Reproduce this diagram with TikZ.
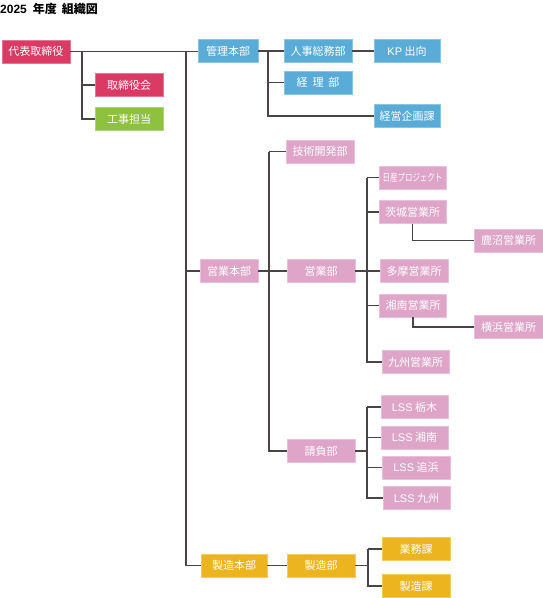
\documentclass[tikz,border=0pt]{standalone}
\usepackage{fontspec}
\usepackage{graphicx}
\setmainfont{Noto Sans CJK JP}
\newfontfamily\latinfont{Liberation Sans}
\usetikzlibrary{positioning, calc}
\definecolor{orgred}{HTML}{DB3A64}
\definecolor{orggreen}{HTML}{8DC13F}
\definecolor{orgblue}{HTML}{5AACD8}
\definecolor{orgpink}{HTML}{DFA5C9}
\definecolor{orggold}{HTML}{ECB41E}
\definecolor{orgline}{HTML}{4A4545}
\newcommand{\lat}[1]{{\latinfont #1}}

\begin{document}
\begin{tikzpicture}[
    x=1pt, y=-1pt,
    unit/.style={fill=#1, draw=#1!70!white, line width=0.6pt, text=white,
                 minimum width=68pt, minimum height=23pt, inner sep=0pt,
                 font=\fontsize{11}{12}\selectfont},
    link/.style={draw=orgline, line width=1.4pt},
]
    \useasboundingbox (0,0) rectangle (543,598);
    \node[anchor=north west, inner sep=0pt, font=\fontsize{12}{13}\selectfont\bfseries] (title) at (0,2.5) {\lat{2025}\hspace{6pt}年度\hspace{5pt}組織図};

    % Top
    \node[unit=orgred] (ceo) at (36,51.5) {代表取締役};
    \node[unit=orgred] (board) at (129,85) {取締役会};
    \node[unit=orggreen] (koji) at (129,119) {工事担当};

    % 管理本部
    \node[unit=orgblue, minimum width=60pt] (kanri) at (228,51) {管理本部};
    \node[unit=orgblue] (jinji) at (318,51) {人事総務部};
    \node[unit=orgblue, minimum width=66pt] (kp) at (407,51) {\lat{KP} 出向};
    \node[unit=orgblue] (keiri) at (318,82.5) {経\ \ 理\ \ 部};
    \node[unit=orgblue, minimum width=66pt] (kikaku) at (407,116) {経営企画課};

    % 営業本部
    \node[unit=orgpink] (gijutsu) at (320,151.5) {技術開発部};
    \node[unit=orgpink, minimum width=58pt] (eigyohq) at (229,271) {営業本部};
    \node[unit=orgpink] (eigyo) at (321,271) {営業部};
    \node[unit=orgpink, minimum width=67pt] (nissan) at (412.5,177.5) {\scalebox{0.68}[0.92]{日産プロジェクト}};
    \node[unit=orgpink, minimum width=67pt] (ibaraki) at (412.5,212) {茨城営業所};
    \node[unit=orgpink, minimum width=69pt] (kanuma) at (508.5,240.5) {鹿沼営業所};
    \node[unit=orgpink] (tama) at (414,271) {多摩営業所};
    \node[unit=orgpink, minimum width=67pt] (shonan) at (413,305.5) {湘南営業所};
    \node[unit=orgpink, minimum width=69pt] (yokohama) at (508.5,327) {横浜営業所};
    \node[unit=orgpink, minimum width=67pt] (kyushu) at (415.5,362) {九州営業所};
    \node[unit=orgpink] (ukeoi) at (321,451) {請負部};
    \node[unit=orgpink, minimum width=67pt] (lsstochigi) at (414.5,407) {\lat{LSS} 栃木};
    \node[unit=orgpink, minimum width=67pt] (lssshonan) at (414.5,437.5) {\lat{LSS} 湘南};
    \node[unit=orgpink] (lssoppama) at (416,467.5) {\lat{LSS} 追浜};
    \node[unit=orgpink, minimum width=67pt] (lsskyushu) at (416.5,498) {\lat{LSS} 九州};

    % 製造本部
    \node[unit=orggold, minimum width=66pt] (seizohq) at (234,565.5) {製造本部};
    \node[unit=orggold] (seizo) at (321,565.5) {製造部};
    \node[unit=orggold] (gyomu) at (416,549) {業務課};
    \node[unit=orggold] (seizoka) at (416,586) {製造課};

    % Lines
    \coordinate (ceojoint) at (82,51.5);
    \coordinate (trunk) at (186,51.5);
    \draw[link] (ceo.east) -- (kanri.west |- ceo.east);
    \draw[link] (ceojoint) |- (koji.west);
    \draw[link] (ceojoint |- board.west) -- (board.west);
    \draw[link] (trunk) |- (seizohq.west);
    \draw[link] (trunk |- eigyohq.west) -- (eigyohq.west);

    \coordinate (kanrijoint) at (268,51);
    \draw[link] (kanri.east) -- (jinji.west);
    \draw[link] (jinji.east) -- (kp.west);
    \draw[link] (kanrijoint) |- (kikaku.west);
    \draw[link] (kanrijoint |- keiri.west) -- (keiri.west);

    \coordinate (eigyohqjoint) at (269,271);
    \draw[link] (eigyohq.east) -- (eigyo.west);
    \draw[link] (eigyohqjoint |- gijutsu.west) -- (gijutsu.west);
    \draw[link] (eigyohqjoint |- gijutsu.west) |- (ukeoi.west);

    \coordinate (eigyojoint) at (367,271);
    \draw[link] (eigyo.east) -- (tama.west);
    \draw[link] (eigyojoint |- nissan.west) -- (nissan.west);
    \draw[link] (eigyojoint |- nissan.west) |- (kyushu.west);
    \draw[link] (eigyojoint |- ibaraki.west) -- (ibaraki.west);
    \draw[link] (eigyojoint |- shonan.west) -- (shonan.west);
    \draw[link] (ibaraki.south) |- (kanuma.west);
    \draw[link] (shonan.south) |- (yokohama.west);

    \coordinate (ukeoijoint) at (367,451);
    \draw[link] (ukeoi.east) -- (ukeoijoint);
    \draw[link] (ukeoijoint |- lsstochigi.west) -- (lsstochigi.west);
    \draw[link] (ukeoijoint |- lsstochigi.west) |- (lsskyushu.west);
    \draw[link] (ukeoijoint |- lssshonan.west) -- (lssshonan.west);
    \draw[link] (ukeoijoint |- lssoppama.west) -- (lssoppama.west);

    \coordinate (seizojoint) at (368,565.5);
    \draw[link] (seizohq.east) -- (seizo.west);
    \draw[link] (seizo.east) -- (seizojoint);
    \draw[link] (seizojoint |- gyomu.west) -- (gyomu.west);
    \draw[link] (seizojoint |- gyomu.west) |- (seizoka.west);
\end{tikzpicture}
\end{document}
